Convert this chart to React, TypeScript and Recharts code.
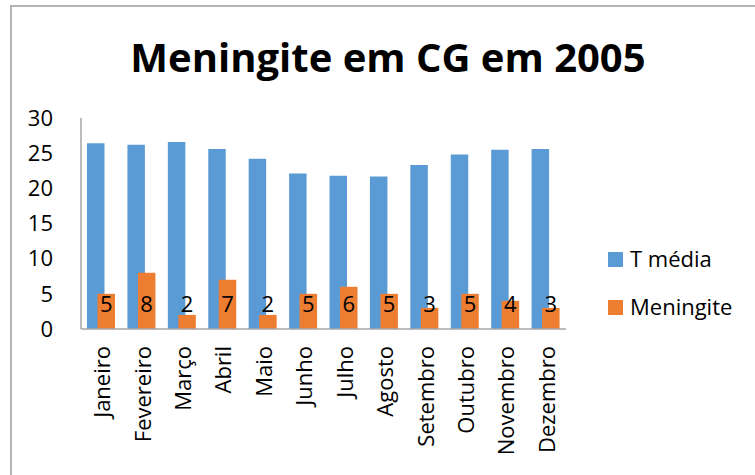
import { BarChart, Bar, XAxis, YAxis, LabelList } from "recharts";

const months = [
  "Janeiro", "Fevereiro", "Março", "Abril", "Maio", "Junho",
  "Julho", "Agosto", "Setembro", "Outubro", "Novembro", "Dezembro",
];
const tMedia = [26.4, 26.2, 26.6, 25.6, 24.2, 22.1, 21.8, 21.7, 23.3, 24.8, 25.5, 25.6];
const meningite = [5, 8, 2, 7, 2, 5, 6, 5, 3, 5, 4, 3];
const yTicks = [0, 5, 10, 15, 20, 25, 30];
const seriesNames = ["T média", "Meningite"];
const seriesColors = ["#5B9BD5", "#ED7D31"];

const FONT = "'Open Sans', sans-serif";

const chartData = months.map((m, i) => ({ month: m, tMedia: tMedia[i], meningite: meningite[i] }));

function MonthTick({ x, y, payload }: any) {
  return (
    <text
      x={x}
      y={y}
      transform={`rotate(-90, ${x}, ${y})`}
      textAnchor="end"
      dominantBaseline="central"
      fontFamily={FONT}
      fontSize={22}
      fill="#000"
    >
      {payload.value}
    </text>
  );
}

export default function App() {
  return (
    <div style={{ position: "absolute", left: 0, top: 0, width: 755, height: 475, overflow: "hidden", background: "#fff" }}>
      <div
        style={{
          position: "absolute",
          left: 10,
          top: 5,
          width: 780,
          height: 500,
          border: "2px solid #b4b4b4",
        }}
      />
      <div style={{ position: "absolute", left: 0, top: 0 }}>
        <BarChart
          width={755}
          height={475}
          data={chartData}
          margin={{ top: 118, right: 189, left: 0, bottom: 0 }}
          barGap={-7}
          barSize={17.5}
        >
          <XAxis
            dataKey="month"
            height={146}
            interval={0}
            tickLine={false}
            tickSize={0}
            tickMargin={17}
            axisLine={{ stroke: "#a6a6a6", strokeWidth: 1.5 }}
            tick={<MonthTick />}
          />
          <YAxis
            width={81}
            domain={[0, 30]}
            ticks={yTicks}
            interval={0}
            tickLine={false}
            tickSize={0}
            tickMargin={28}
            axisLine={{ stroke: "#a6a6a6", strokeWidth: 1.5 }}
            tick={{ fontFamily: FONT, fontSize: 22, fill: "#000" }}
          />
          <Bar dataKey="tMedia" name={seriesNames[0]} fill={seriesColors[0]} isAnimationActive={false} />
          <Bar dataKey="meningite" name={seriesNames[1]} fill={seriesColors[1]} isAnimationActive={false}>
            <LabelList
              dataKey="meningite"
              position="insideBottom"
              offset={17}
              fill="#000"
              fontFamily={FONT}
              fontSize={22}
            />
          </Bar>
        </BarChart>
      </div>
      <svg width={755} height={475} style={{ position: "absolute", left: 0, top: 0, pointerEvents: "none" }}>
        <text x={388} y={72} textAnchor="middle" fontFamily={FONT} fontWeight={700} fontSize={40} fill="#000">
          Meningite em CG em 2005
        </text>
        {seriesNames.map((name, i) => (
          <g key={name}>
            <rect x={608} y={252 + i * 48} width={15} height={15} fill={seriesColors[i]} />
            <text x={630} y={267 + i * 48} fontFamily={FONT} fontSize={22} fill="#000">
              {name}
            </text>
          </g>
        ))}
      </svg>
    </div>
  );
}
